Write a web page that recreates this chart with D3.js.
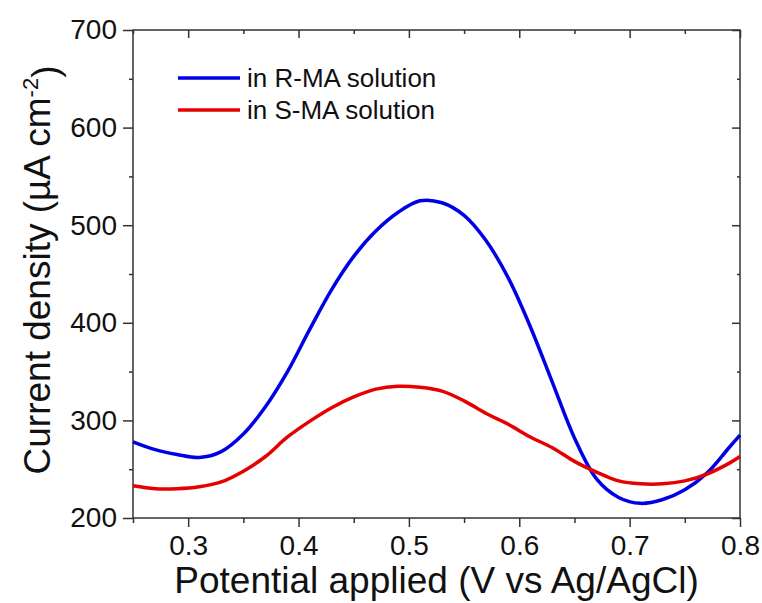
<!DOCTYPE html>
<html>
<head>
<meta charset="utf-8">
<script src="https://cdn.jsdelivr.net/npm/d3@7"></script>
<style>
  body { margin: 0; background: #fff; }
  svg { font-family: 'Liberation Sans', Arial, sans-serif; }
</style>
</head>
<body>
<div id="chart"></div>
<script>
// potential (V vs Ag/AgCl)
const potential = [0.25, 0.27, 0.29, 0.31, 0.33, 0.35, 0.37, 0.39, 0.41, 0.43,
  0.45, 0.47, 0.49, 0.51, 0.53, 0.55, 0.57, 0.59, 0.61, 0.63,
  0.65, 0.67, 0.69, 0.71, 0.73, 0.75, 0.77, 0.79, 0.80];
// current density in R-MA solution
const currentR = [278, 270, 265, 262, 268, 286, 314, 350, 393, 434,
  468, 494, 513, 525, 523, 510, 484, 446, 396, 339,
  282, 240, 221, 215, 219, 229, 246, 272, 285];
// current density in S-MA solution
const currentS = [233, 230, 230, 232, 237, 248, 263, 283, 299, 313,
  324, 332, 335, 334, 330, 320, 307, 296, 283, 272,
  258, 247, 238, 235, 235, 238, 245, 256, 263];
const seriesNames = ['in R-MA solution', 'in S-MA solution'];
const seriesColors = ['#0000e6', '#e60000'];
const xTicks = [0.3, 0.4, 0.5, 0.6, 0.7, 0.8];
const xMinor = [0.25, 0.35, 0.45, 0.55, 0.65, 0.75];
const yTicks = [200, 300, 400, 500, 600, 700];
const yMinor = [250, 350, 450, 550, 650];

const W = 762;
const H = 603;
const margin = { top: 30, right: 22, bottom: 85, left: 133 };
const width = W - margin.left - margin.right;
const height = H - margin.top - margin.bottom;
const axisColor = '#333';

const svg = d3.select('#chart').append('svg')
  .attr('width', W)
  .attr('height', H);

const g = svg.append('g')
  .attr('transform', `translate(${margin.left},${margin.top})`);

const x = d3.scaleLinear().domain([0.25, 0.8]).range([0, width]);
const y = d3.scaleLinear().domain([200, 700]).range([height, 0]);

function styleAxis(sel) {
  sel.select('.domain').remove();
  sel.selectAll('line').attr('stroke', axisColor).attr('stroke-width', 1.5);
  sel.selectAll('text').attr('fill', '#111').style('font-size', '28px');
}

// bottom axis
g.append('g')
  .attr('transform', `translate(0,${height})`)
  .call(d3.axisBottom(x).tickValues(xTicks).tickFormat(d3.format('.1f')).tickSize(9).tickPadding(8))
  .call(styleAxis)
  .selectAll('text').attr('dy', '0.71em');
g.append('g')
  .attr('transform', `translate(0,${height})`)
  .call(d3.axisBottom(x).tickValues(xMinor).tickFormat('').tickSize(5))
  .call(styleAxis);

// top axis (inward ticks)
g.append('g')
  .call(d3.axisBottom(x).tickValues(xTicks).tickFormat('').tickSize(8))
  .call(styleAxis);
g.append('g')
  .call(d3.axisBottom(x).tickValues(xMinor).tickFormat('').tickSize(4))
  .call(styleAxis);

// left axis
g.append('g')
  .call(d3.axisLeft(y).tickValues(yTicks).tickSize(10).tickPadding(6))
  .call(styleAxis);
g.append('g')
  .call(d3.axisLeft(y).tickValues(yMinor).tickFormat('').tickSize(4))
  .call(styleAxis);

// right axis (inward ticks)
g.append('g')
  .attr('transform', `translate(${width},0)`)
  .call(d3.axisLeft(y).tickValues(yTicks).tickFormat('').tickSize(8))
  .call(styleAxis);
g.append('g')
  .attr('transform', `translate(${width},0)`)
  .call(d3.axisLeft(y).tickValues(yMinor).tickFormat('').tickSize(3))
  .call(styleAxis);

// frame
g.append('rect')
  .attr('width', width)
  .attr('height', height)
  .attr('fill', 'none')
  .attr('stroke', axisColor)
  .attr('stroke-width', 1.5);

// curves
const line = d3.line()
  .x((d, i) => x(potential[i]))
  .y(d => y(d))
  .curve(d3.curveCatmullRom);

[currentR, currentS].forEach((vals, k) => {
  g.append('path')
    .datum(vals)
    .attr('fill', 'none')
    .attr('stroke', seriesColors[k])
    .attr('stroke-width', 3.5)
    .attr('d', line);
});

// legend
const legend = g.append('g').attr('transform', 'translate(45,48)');
seriesNames.forEach((name, k) => {
  const row = legend.append('g').attr('transform', `translate(0,${k * 32})`);
  row.append('line')
    .attr('x1', 0).attr('x2', 62)
    .attr('stroke', seriesColors[k])
    .attr('stroke-width', 3.5);
  row.append('text')
    .attr('x', 69)
    .attr('dy', '0.35em')
    .style('font-size', '26px')
    .attr('fill', '#111')
    .text(name);
});

// axis titles
svg.append('text')
  .attr('x', margin.left + width / 2)
  .attr('y', 593)
  .attr('text-anchor', 'middle')
  .style('font-size', '37px')
  .attr('fill', '#111')
  .text('Potential applied (V vs Ag/AgCl)');

const yTitle = svg.append('text')
  .attr('transform', `translate(50,${margin.top + height / 2 - 4}) rotate(-90)`)
  .attr('text-anchor', 'middle')
  .style('font-size', '37px')
  .attr('fill', '#111');
yTitle.append('tspan').text('Current density (\u00b5A cm');
yTitle.append('tspan').attr('dy', '-0.55em').style('font-size', '22px').text('-2');
yTitle.append('tspan').attr('dy', '0.55em').text(')');
</script>
</body>
</html>
